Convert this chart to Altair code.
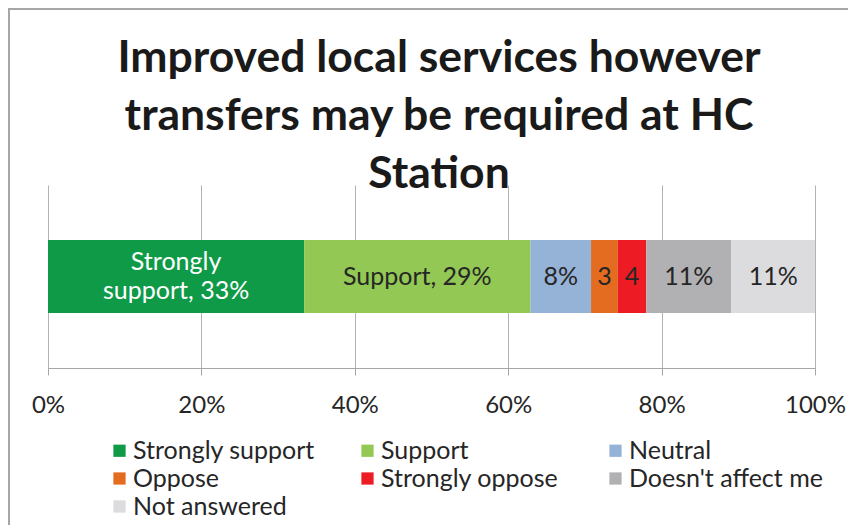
import altair as alt
import pandas as pd

categories = ["Strongly support", "Support", "Neutral", "Oppose",
              "Strongly oppose", "Doesn't affect me", "Not answered"]
values = [33.4, 29.5, 7.9, 3.5, 3.7, 11.1, 10.9]
labels = ["Strongly\nsupport, 33%", "Support, 29%", "8%", "3", "4", "11%", "11%"]
colors = ["#0f9a48", "#92c853", "#95b3d7", "#e46c20", "#ed1c24", "#b1b1b3", "#dcdcde"]
title_lines = ["Improved local services however",
               "transfers may be required at HC", "Station"]
tick_values = [0, 20, 40, 60, 80, 100]

df = pd.DataFrame({
    "category": categories,
    "value": values,
    "label": labels,
    "idx": list(range(len(categories))),
    "row": ["all"] * len(categories),
})

FONT = "Lato"
x_scale = alt.Scale(domain=[0, 100], nice=False)
y_enc = alt.Y("row:N", axis=None, scale=alt.Scale(paddingInner=0, paddingOuter=0))

base = alt.Chart(df)

bars = base.mark_bar(size=73).encode(
    x=alt.X("value:Q", stack="zero", scale=x_scale,
            axis=alt.Axis(values=tick_values, labelExpr="datum.value + '%'",
                          title=None, grid=True, gridColor="#b3b3b3",
                          domainColor="#a6a6a6", tickColor="#a6a6a6",
                          tickSize=7, labelFontSize=24, labelFont=FONT,
                          labelColor="#262626", labelPadding=18,
                          labelFlush=False)),
    y=y_enc,
    color=alt.Color("category:N",
                    scale=alt.Scale(domain=categories, range=colors),
                    legend=alt.Legend(title=None, orient="none", columns=3,
                                      direction="horizontal", values=categories,
                                      legendX=59, legendY=253,
                                      symbolType="square", symbolSize=150,
                                      symbolStrokeWidth=0,
                                      labelFontSize=25, labelFont=FONT,
                                      labelColor="#262626", labelLimit=300,
                                      gridAlign="all", columnPadding=28,
                                      rowPadding=2, labelOffset=1)),
    order=alt.Order("idx:Q"),
)

labelled = base.transform_window(
    cum="sum(value)", sort=[{"field": "idx"}], frame=[None, 0]
).transform_calculate(
    mid="datum.cum - datum.value / 2"
)

texts_single = labelled.transform_filter(
    alt.datum.category != "Strongly support"
).mark_text(fontSize=25, font=FONT, color="#262626").encode(
    x=alt.X("mid:Q", scale=x_scale),
    y=y_enc,
    text="label:N",
)

texts_double = labelled.transform_filter(
    alt.datum.category == "Strongly support"
).mark_text(fontSize=25, font=FONT, color="white", lineBreak="\n",
            lineHeight=29, dy=-15).encode(
    x=alt.X("mid:Q", scale=x_scale),
    y=y_enc,
    text="label:N",
)

title_df = pd.DataFrame({"t": ["\n".join(title_lines)]})
title_mark = alt.Chart(title_df).mark_text(
    font=FONT, fontSize=44.5, fontWeight="bold", color="#1a1a1a",
    lineBreak="\n", lineHeight=58, baseline="alphabetic", align="center"
).encode(x=alt.value(391), y=alt.value(-113), text="t:N")

frame_data = alt.Data(values=[{"a": 1}])
left_border = alt.Chart(frame_data).mark_rule(color="#a6a6a8", strokeWidth=2).encode(
    x=alt.value(-39), y=alt.value(-177), y2=alt.value(340))
top_border = alt.Chart(frame_data).mark_rule(color="#a6a6a8", strokeWidth=2).encode(
    x=alt.value(-40), x2=alt.value(810), y=alt.value(-176))

chart = alt.layer(bars, texts_single, texts_double, title_mark,
                  left_border, top_border).properties(
    width=767, height=183,
    autosize=alt.AutoSizeParams(type="none"),
    padding={"left": 40, "top": 177, "right": 33, "bottom": 161},
).configure_view(stroke=None).configure_axis(gridWidth=1)

chart.save("out.html", embed_options={"renderer": "svg", "actions": False})
